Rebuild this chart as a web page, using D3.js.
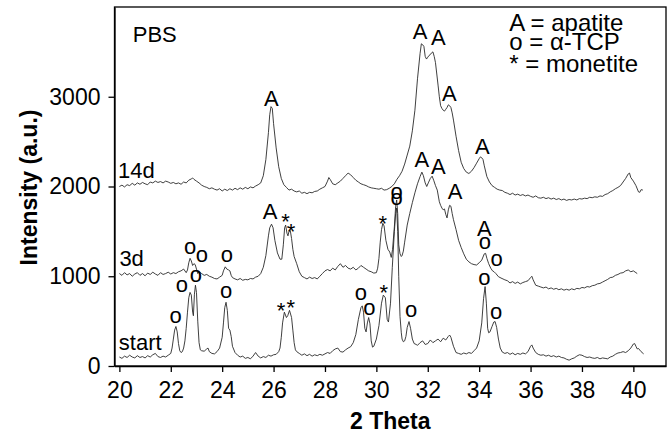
<!DOCTYPE html>
<html><head><meta charset="utf-8">
<script src="https://cdn.jsdelivr.net/npm/d3@7"></script>
<style>
body{margin:0;background:#fff}
svg{display:block}
text{font-family:Arial,"Liberation Sans",Helvetica,sans-serif;fill:#000}
</style>
</head><body>
<svg id="chart" width="672" height="434"></svg>
<script>
// ---------- data (2-theta in degrees, intensity in a.u.) ----------
const startSeries = [
[20.0,100],[20.1,85],[20.2,110],[20.3,95],[20.4,120],[20.5,100],[20.6,90],[20.7,115],[20.8,95],[20.9,105],
[21.0,90],[21.1,115],[21.2,100],[21.3,125],[21.4,140],[21.5,105],[21.6,95],[21.7,110],[21.8,100],[21.9,120],
[22.0,140],[22.05,200],[22.1,300],[22.15,400],[22.2,440],[22.25,380],[22.3,250],[22.35,170],[22.4,150],[22.45,160],
[22.5,200],[22.55,280],[22.6,420],[22.65,600],[22.7,760],[22.75,820],[22.8,790],[22.85,600],[22.88,560],[22.92,800],
[22.96,900],[23.0,820],[23.05,500],[23.1,260],[23.15,180],[23.2,170],[23.3,165],[23.4,190],[23.45,200],[23.5,160],
[23.6,140],[23.7,135],[23.8,160],[23.9,200],[24.0,320],[24.05,480],[24.1,650],[24.15,710],[24.2,620],[24.25,420],
[24.3,400],[24.35,330],[24.4,220],[24.5,150],[24.6,120],[24.7,100],[24.8,110],[24.9,85],[25.0,95],[25.1,80],
[25.2,110],[25.3,150],[25.4,110],[25.5,90],[25.6,105],[25.7,95],[25.8,120],[25.9,110],[26.0,125],[26.1,130],
[26.2,160],[26.25,200],[26.3,320],[26.35,480],[26.42,600],[26.5,540],[26.55,560],[26.62,620],[26.7,540],[26.75,400],
[26.8,260],[26.85,180],[26.9,160],[27.0,140],[27.1,120],[27.2,135],[27.3,115],[27.4,130],[27.5,110],[27.6,125],
[27.7,115],[27.8,130],[27.9,120],[28.0,135],[28.1,150],[28.2,140],[28.3,170],[28.4,190],[28.5,200],[28.6,160],
[28.7,155],[28.8,180],[28.9,200],[29.0,215],[29.1,260],[29.2,350],[29.3,520],[29.4,650],[29.45,670],[29.5,600],
[29.55,420],[29.6,380],[29.65,480],[29.7,540],[29.75,470],[29.8,280],[29.85,210],[29.9,220],[30.0,300],[30.1,450],
[30.2,700],[30.27,790],[30.35,760],[30.42,520],[30.47,490],[30.55,700],[30.62,1100],[30.7,1500],[30.75,1700],[30.79,1760],
[30.83,1500],[30.87,1000],[30.92,550],[30.97,370],[31.0,300],[31.05,270],[31.1,280],[31.15,330],[31.2,430],[31.27,495],
[31.33,420],[31.4,300],[31.47,250],[31.55,240],[31.6,230],[31.7,260],[31.8,280],[31.9,240],[32.0,250],[32.1,290],
[32.2,260],[32.3,280],[32.4,300],[32.5,270],[32.6,310],[32.7,290],[32.8,330],[32.85,345],[32.9,320],[33.0,220],
[33.1,150],[33.2,140],[33.3,130],[33.4,145],[33.5,135],[33.6,150],[33.7,140],[33.8,170],[33.9,200],[34.0,280],
[34.1,480],[34.17,750],[34.23,885],[34.28,700],[34.33,420],[34.37,370],[34.42,380],[34.5,440],[34.57,490],[34.62,495],
[34.68,430],[34.75,300],[34.82,200],[34.9,155],[35.0,140],[35.1,150],[35.2,130],[35.3,145],[35.4,125],[35.5,140],
[35.6,130],[35.7,145],[35.8,135],[35.9,160],[36.0,220],[36.05,235],[36.1,200],[36.2,150],[36.3,130],[36.4,120],
[36.5,125],[36.6,110],[36.7,120],[36.8,105],[36.9,115],[37.0,100],[37.1,110],[37.2,95],[37.3,90],[37.4,75],
[37.5,65],[37.6,80],[37.7,90],[37.8,110],[37.9,125],[38.0,120],[38.1,105],[38.2,95],[38.3,100],[38.4,90],
[38.5,85],[38.6,95],[38.7,80],[38.8,90],[38.9,85],[39.0,80],[39.1,100],[39.2,110],[39.3,130],[39.4,145],
[39.5,150],[39.6,160],[39.7,150],[39.8,170],[39.9,200],[40.0,245],[40.05,250],[40.1,220],[40.15,190],[40.2,195],
[40.3,160],[40.4,135]
];

const day3Series = [
[20.0,1030],[20.1,1010],[20.2,1040],[20.3,1015],[20.4,1030],[20.5,1000],[20.6,1025],[20.7,1040],[20.8,1010],[20.9,1030],
[21.0,1005],[21.1,1035],[21.2,1020],[21.3,1045],[21.4,1025],[21.5,1010],[21.6,1040],[21.7,1020],[21.8,1030],[21.9,1045],
[22.0,1025],[22.1,1040],[22.2,1030],[22.3,1050],[22.4,1060],[22.5,1080],[22.6,1040],[22.65,1070],[22.7,1150],[22.75,1200],
[22.8,1170],[22.85,1120],[22.9,1140],[22.95,1130],[23.0,1080],[23.05,1030],[23.1,1050],[23.2,1030],[23.3,1010],[23.4,1020],
[23.5,1000],[23.6,990],[23.7,975],[23.8,970],[23.9,990],[24.0,1010],[24.05,1060],[24.12,1105],[24.18,1080],[24.25,1070],
[24.3,1060],[24.35,1010],[24.4,985],[24.5,970],[24.6,960],[24.7,975],[24.8,955],[24.9,965],[25.0,960],[25.1,975],
[25.2,970],[25.3,990],[25.4,1000],[25.5,1030],[25.6,1100],[25.7,1230],[25.8,1450],[25.85,1540],[25.92,1580],[25.98,1540],
[26.05,1400],[26.15,1260],[26.25,1190],[26.32,1190],[26.38,1350],[26.43,1540],[26.47,1570],[26.52,1480],[26.56,1450],[26.6,1500],
[26.65,1510],[26.7,1420],[26.75,1300],[26.8,1220],[26.9,1140],[27.0,1050],[27.1,1000],[27.2,985],[27.3,970],[27.4,990],
[27.5,975],[27.6,985],[27.7,970],[27.8,1000],[27.9,1030],[28.0,1060],[28.1,1075],[28.2,1060],[28.3,1090],[28.4,1070],
[28.5,1110],[28.6,1140],[28.7,1100],[28.8,1120],[28.9,1090],[29.0,1080],[29.1,1100],[29.2,1070],[29.3,1090],[29.4,1120],
[29.5,1100],[29.6,1080],[29.7,1060],[29.8,1050],[29.9,1035],[30.0,1040],[30.05,1090],[30.1,1200],[30.15,1380],[30.2,1520],
[30.25,1590],[30.3,1560],[30.37,1400],[30.45,1300],[30.52,1270],[30.58,1210],[30.63,1300],[30.7,1550],[30.75,1780],[30.79,1850],
[30.83,1700],[30.87,1350],[30.92,1250],[30.97,1220],[31.0,1230],[31.05,1280],[31.1,1380],[31.2,1570],[31.3,1700],[31.4,1820],
[31.5,1930],[31.6,2030],[31.7,2110],[31.77,2160],[31.83,2120],[31.9,2040],[31.96,2000],[32.02,2040],[32.1,2090],[32.17,2115],
[32.23,2070],[32.3,2010],[32.37,1960],[32.45,1830],[32.5,1790],[32.55,1760],[32.6,1740],[32.65,1750],[32.7,1690],[32.75,1650],
[32.8,1740],[32.85,1790],[32.9,1780],[32.95,1700],[33.0,1630],[33.1,1520],[33.2,1400],[33.3,1320],[33.4,1250],[33.5,1190],
[33.6,1160],[33.7,1140],[33.8,1130],[33.9,1125],[34.0,1150],[34.1,1180],[34.2,1250],[34.25,1255],[34.3,1200],[34.37,1140],
[34.45,1090],[34.52,1060],[34.58,1050],[34.65,1030],[34.75,995],[34.85,980],[35.0,960],[35.1,950],[35.2,925],[35.3,940],
[35.4,920],[35.5,935],[35.6,915],[35.7,930],[35.8,940],[35.9,950],[36.0,985],[36.05,1000],[36.1,960],[36.2,900],
[36.3,890],[36.4,880],[36.5,870],[36.6,880],[36.7,860],[36.8,870],[36.9,855],[37.0,865],[37.1,850],[37.2,860],
[37.3,845],[37.4,855],[37.5,845],[37.6,860],[37.7,850],[37.8,865],[37.9,860],[38.0,875],[38.1,870],[38.2,885],
[38.3,880],[38.4,895],[38.5,900],[38.6,915],[38.7,920],[38.8,935],[38.9,950],[39.0,965],[39.1,985],[39.2,990],
[39.3,1010],[39.4,1020],[39.5,1035],[39.6,1040],[39.7,1060],[39.8,1070],[39.9,1050],[40.0,1060],[40.1,1040],[40.15,1030]
];

const day14Series = [
[20.0,2000],[20.1,2015],[20.2,1995],[20.3,2020],[20.4,2010],[20.5,2035],[20.6,2015],[20.7,2040],[20.8,2025],[20.9,2045],
[21.0,2030],[21.1,2020],[21.2,2050],[21.3,2040],[21.4,2060],[21.5,2045],[21.6,2055],[21.7,2040],[21.8,2060],[21.9,2050],
[22.0,2035],[22.1,2045],[22.2,2030],[22.3,2040],[22.4,2025],[22.5,2050],[22.6,2040],[22.7,2070],[22.8,2085],[22.85,2095],
[22.9,2080],[23.0,2060],[23.1,2040],[23.2,2015],[23.3,2000],[23.4,1990],[23.5,1975],[23.6,1985],[23.7,1970],[23.8,1960],
[23.9,1975],[24.0,1950],[24.1,1970],[24.2,1955],[24.3,1975],[24.4,1960],[24.5,1980],[24.6,1965],[24.7,1985],[24.8,1970],
[24.9,1990],[25.0,1975],[25.1,1995],[25.2,1985],[25.3,2005],[25.4,2020],[25.5,2040],[25.6,2120],[25.7,2300],[25.8,2600],
[25.85,2800],[25.9,2890],[25.95,2870],[26.0,2700],[26.1,2430],[26.2,2220],[26.3,2090],[26.4,2020],[26.5,1990],[26.6,1960],
[26.7,1970],[26.8,1950],[26.9,1940],[27.0,1950],[27.1,1925],[27.2,1935],[27.3,1920],[27.4,1935],[27.5,1930],[27.6,1945],
[27.7,1950],[27.8,1970],[27.9,1985],[28.0,2000],[28.1,2060],[28.15,2100],[28.2,2080],[28.3,2030],[28.4,2020],[28.5,2040],
[28.6,2060],[28.7,2090],[28.8,2120],[28.9,2150],[29.0,2130],[29.1,2100],[29.2,2070],[29.3,2050],[29.4,2030],[29.5,2020],
[29.6,2010],[29.7,1995],[29.8,1985],[29.9,1980],[30.0,1975],[30.1,1970],[30.2,1980],[30.3,1960],[30.4,1965],[30.5,1980],
[30.6,2000],[30.7,2030],[30.8,2080],[30.9,2120],[31.0,2170],[31.1,2250],[31.2,2350],[31.3,2450],[31.4,2620],[31.5,2850],
[31.6,3200],[31.7,3480],[31.75,3590],[31.8,3580],[31.85,3560],[31.9,3450],[31.95,3420],[32.0,3440],[32.05,3460],[32.1,3470],
[32.15,3490],[32.2,3500],[32.25,3450],[32.3,3380],[32.4,3130],[32.45,3000],[32.5,2900],[32.55,2870],[32.6,2850],[32.65,2840],
[32.7,2860],[32.75,2880],[32.8,2910],[32.85,2900],[32.9,2880],[32.95,2820],[33.0,2740],[33.1,2560],[33.2,2400],[33.3,2270],
[33.4,2200],[33.5,2160],[33.6,2145],[33.7,2170],[33.8,2210],[33.9,2260],[34.0,2310],[34.05,2330],[34.1,2320],[34.15,2300],
[34.2,2230],[34.3,2110],[34.4,2050],[34.5,2010],[34.6,1990],[34.7,1970],[34.8,1960],[34.9,1955],[35.0,1935],[35.1,1925],
[35.2,1910],[35.3,1925],[35.4,1905],[35.5,1915],[35.6,1900],[35.7,1910],[35.8,1895],[35.9,1905],[36.0,1890],[36.1,1880],
[36.2,1895],[36.3,1875],[36.4,1870],[36.5,1880],[36.6,1865],[36.7,1875],[36.8,1860],[36.9,1870],[37.0,1855],[37.1,1865],
[37.2,1850],[37.3,1860],[37.4,1845],[37.5,1855],[37.6,1850],[37.7,1860],[37.8,1850],[37.9,1865],[38.0,1860],[38.1,1870],
[38.2,1865],[38.3,1880],[38.4,1875],[38.5,1885],[38.6,1880],[38.7,1895],[38.8,1890],[38.9,1910],[39.0,1920],[39.1,1940],
[39.2,1955],[39.3,1975],[39.4,1990],[39.5,2010],[39.6,2050],[39.7,2090],[39.8,2140],[39.85,2150],[39.9,2100],[40.0,2060],
[40.1,2010],[40.2,1940],[40.25,1935],[40.3,1965],[40.37,1960]
];

const seriesNames = ["start", "3d", "14d"];
// label anchor (theta, intensity) for each series name
const seriesLabelPos = [[19.98, 182], [20.0, 1111], [19.95, 2097]];

const xTicks = [20, 22, 24, 26, 28, 30, 32, 34, 36, 38, 40];
const yTicks = [0, 1000, 2000, 3000];

// peak annotations: symbol, theta, intensity (text baseline)
const peakSymbols = ["o","o","o","o","*","*","o","o","*","o","o","o","o",
                     "o","o","o","A","*","*","*","o","A","A","A","A","o","o",
                     "A","A","A","A","A"];
const peakTheta   = [22.19,22.43,22.98,24.15,26.29,26.67,29.40,29.73,30.29,30.79,31.35,34.20,34.66,
                     22.75,23.21,24.18,25.86,26.47,26.68,30.25,30.79,31.77,32.41,33.06,34.20,34.22,34.68,
                     25.91,31.70,32.41,32.84,34.12];
const peakValue   = [476,825,936,758,535,568,735,568,730,1794,546,902,524,
                     1248,1159,1159,1638,1521,1417,1504,1866,2217,2139,1861,1449,1300,1114,
                     2897,3640,3577,2952,2362];

const panelTitle = "PBS";
const legendLines = ["A = apatite", "o = \u03B1-TCP", "* = monetite"];
const legendTheta = 35.17;
const legendValue = [3733, 3521, 3276];
const xTitle = "2 Theta";
const yTitle = "Intensity (a.u.)";

// ---------- layout ----------
const svg = d3.select("#chart");
const L = 114.5, R = 666, T = 7, B = 366;
const x = d3.scaleLinear().domain([19.81, 41.27]).range([L, R]);
const y = d3.scaleLinear().domain([0, 4000]).range([B, T]);
const FS = 23;

// curves
const line = d3.line().x(d => x(d[0])).y(d => y(d[1]));
const allSeries = [startSeries, day3Series, day14Series];
svg.append("g").selectAll("path").data(allSeries).join("path")
  .attr("d", line).attr("fill", "none")
  .attr("stroke", "#2a2a2a").attr("stroke-width", 0.9).attr("stroke-linejoin", "round");

// frame
svg.append("rect").attr("x", L).attr("y", T).attr("width", R - L).attr("height", B - T)
  .attr("fill", "none").attr("stroke", "#000").attr("stroke-width", 1.3);

// axes
const xAxis = svg.append("g").attr("transform", `translate(0,${B})`)
  .call(d3.axisBottom(x).tickValues(xTicks).tickSize(6).tickSizeOuter(0).tickPadding(10).tickFormat(d3.format("d")));
const yAxis = svg.append("g").attr("transform", `translate(${L},0)`)
  .call(d3.axisLeft(y).tickValues(yTicks).tickSize(6).tickSizeOuter(0).tickPadding(8).tickFormat(d3.format("d")));
[xAxis, yAxis].forEach(g => {
  g.select(".domain").attr("stroke", "#000").attr("stroke-width", 1.3);
  g.selectAll(".tick line").attr("stroke", "#000").attr("stroke-width", 1.3);
  g.selectAll(".tick text").attr("font-size", FS).attr("font-family", "Arial, 'Liberation Sans', sans-serif").attr("fill", "#000");
});

// axis titles
svg.append("text").attr("x", (L + R) / 2).attr("y", 429).attr("text-anchor", "middle")
  .attr("font-size", FS).attr("font-weight", "bold").text(xTitle);
svg.append("text").attr("transform", `translate(37,${(T + B) / 2 + 1}) rotate(-90)`).attr("text-anchor", "middle")
  .attr("font-size", FS).attr("font-weight", "bold").text(yTitle);

// series labels
svg.append("g").selectAll("text").data(seriesNames).join("text")
  .attr("x", (d, i) => x(seriesLabelPos[i][0])).attr("y", (d, i) => y(seriesLabelPos[i][1]))
  .attr("font-size", 22).text(d => d);

// peak labels
svg.append("g").selectAll("text").data(peakSymbols).join("text")
  .attr("x", (d, i) => x(peakTheta[i])).attr("y", (d, i) => y(peakValue[i]))
  .attr("text-anchor", "middle").attr("font-size", 22).text(d => d);

// panel title
svg.append("text").attr("x", x(20.52)).attr("y", y(3613)).attr("font-size", 22).text(panelTitle);

// legend
svg.append("g").selectAll("text").data(legendLines).join("text")
  .attr("x", x(legendTheta)).attr("y", (d, i) => y(legendValue[i]))
  .attr("font-size", 24).text(d => d);
</script>
</body></html>
